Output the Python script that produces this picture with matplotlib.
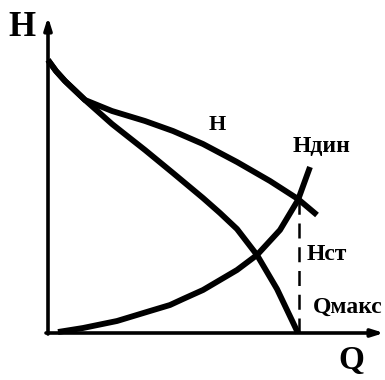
import matplotlib
matplotlib.use("Agg")
import matplotlib.pyplot as plt

# Data (arbitrary units)
h_q = [0, 8, 17, 37, 64, 97, 125, 155, 189, 222, 250, 269]
h_h = [273, 262, 252, 233, 222, 212, 202, 189, 171, 152, 134, 118]

h2_q = [0, 8, 17, 37, 64, 97, 125, 155, 172, 189, 209, 229, 250]
h2_h = [273, 262, 252, 233, 209, 183, 160, 135, 120, 104, 78, 44, 0]

hd_q = [10, 35, 69, 102, 122, 135, 155, 189, 209, 232, 250, 262]
hd_h = [1, 5, 12, 22, 28, 34, 43, 63, 78, 103, 133, 166]

q_work = 251
h_work = 133

fig = plt.figure(figsize=(3.85, 3.80), dpi=100)
ax = fig.add_axes([0, 0, 1, 1])
ax.set_xlim(-48, 337)
ax.set_ylim(-47, 333)
ax.axis("off")

lw = 4.2
kw = dict(color="black", lw=lw, solid_capstyle="butt", solid_joinstyle="round")
ax.plot(h_q, h_h, **kw)
ax.plot(h2_q, h2_h, **kw)
ax.plot(hd_q, hd_h, **kw)

ax.plot([q_work, q_work], [0, h_work], color="black", lw=1.8,
        dashes=(6, 3.5))

arrow = dict(arrowstyle="-|>,head_length=0.7,head_width=0.22", color="black",
             lw=2.6, shrinkA=0, shrinkB=0)
ax.annotate("", xy=(0, 316), xytext=(0, -1), arrowprops=arrow)
ax.annotate("", xy=(336, 0), xytext=(-2, 0), arrowprops=arrow)

font = dict(family=["Liberation Serif", "DejaVu Serif"], weight="bold", color="black")
ax.text(-40, 306, "H", fontsize=25, ha="left", va="center", **font)
ax.text(290, -28, "Q", fontsize=24, ha="left", va="center", **font)
ax.text(161, 208, "H", fontsize=16, ha="left", va="center", **font)
ax.text(245, 187, "Hдин", fontsize=17, ha="left", va="center", **font)
ax.text(259, 78, "Hст", fontsize=17, ha="left", va="center", **font)
ax.text(265, 26, "Qмакс", fontsize=17, ha="left", va="center", **font)

fig.savefig("out.png", dpi=100)
